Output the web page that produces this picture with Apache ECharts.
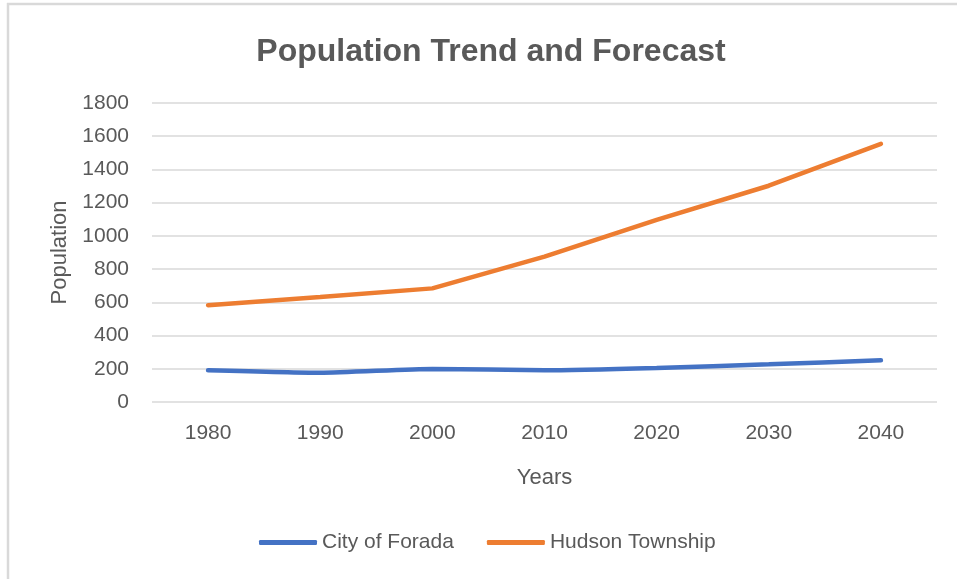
<!DOCTYPE html>
<html>
<head>
<meta charset="utf-8">
<script src="https://cdn.jsdelivr.net/npm/echarts@6/dist/echarts.min.js"></script>
<style>
  html, body { margin: 0; padding: 0; background: #fff; }
  #main { width: 957px; height: 579px; }
</style>
</head>
<body>
<div id="main"></div>
<script>
var chart = echarts.init(document.getElementById('main'));

// 年份
var years = ['1980', '1990', '2000', '2010', '2020', '2030', '2040'];
// City of Forada
var foradaValues = [191, 176, 199, 191, 205, 227, 251];
// Hudson Township
var hudsonValues = [583, 632, 684, 875, 1096, 1302, 1554];

var textColor = '#595959';
var fontName = 'Liberation Sans';

var option = {
    backgroundColor: '#fff',
    textStyle: { fontFamily: fontName },
    title: {
        text: 'Population Trend and Forecast',
        left: 486,
        textAlign: 'center',
        top: 31,
        textStyle: {
            fontSize: 32,
            fontWeight: 'bold',
            color: textColor,
            fontFamily: fontName
        }
    },
    // 外框线（只有上、左两边）
    graphic: [
        { type: 'line', shape: { x1: 7, y1: 4, x2: 957, y2: 4 }, style: { stroke: '#d9d9d9', lineWidth: 2.5 } },
        { type: 'line', shape: { x1: 8, y1: 3, x2: 8, y2: 579 }, style: { stroke: '#d9d9d9', lineWidth: 2.5 } }
    ],
    legend: {
        left: 254,
        top: 527,
        itemWidth: 58,
        itemHeight: 5,
        itemGap: 33,
        icon: 'roundRect',
        textStyle: { fontSize: 21, color: textColor, fontFamily: fontName },
        data: ['City of Forada', 'Hudson Township']
    },
    grid: {
        left: 152,
        right: 20,
        top: 103,
        bottom: 177
    },
    xAxis: {
        type: 'category',
        data: years,
        boundaryGap: true,
        name: 'Years',
        nameLocation: 'middle',
        nameGap: 65,
        nameTextStyle: { fontSize: 22, color: textColor },
        axisLine: { show: false },
        axisTick: { show: false },
        axisLabel: { fontSize: 21, color: textColor, margin: 21 }
    },
    yAxis: {
        type: 'value',
        min: 0,
        max: 1800,
        interval: 200,
        name: 'Population',
        nameLocation: 'middle',
        nameGap: 73,
        nameTextStyle: { fontSize: 22, color: textColor },
        axisLine: { show: false },
        axisTick: { show: false },
        axisLabel: {
            fontSize: 21,
            color: textColor,
            margin: 23,
            formatter: function (v) { return String(v); }
        },
        splitLine: { lineStyle: { color: '#d9d9d9', width: 1.6 } }
    },
    series: [
        {
            name: 'City of Forada',
            type: 'line',
            data: foradaValues,
            symbol: 'none',
            smooth: 0.2,
            itemStyle: { color: '#4472c4' },
            lineStyle: { color: '#4472c4', width: 4.5, cap: 'round' }
        },
        {
            name: 'Hudson Township',
            type: 'line',
            data: hudsonValues,
            symbol: 'none',
            itemStyle: { color: '#ed7d31' },
            lineStyle: { color: '#ed7d31', width: 4.5, cap: 'round' }
        }
    ]
};

chart.setOption(option);
</script>
</body>
</html>
